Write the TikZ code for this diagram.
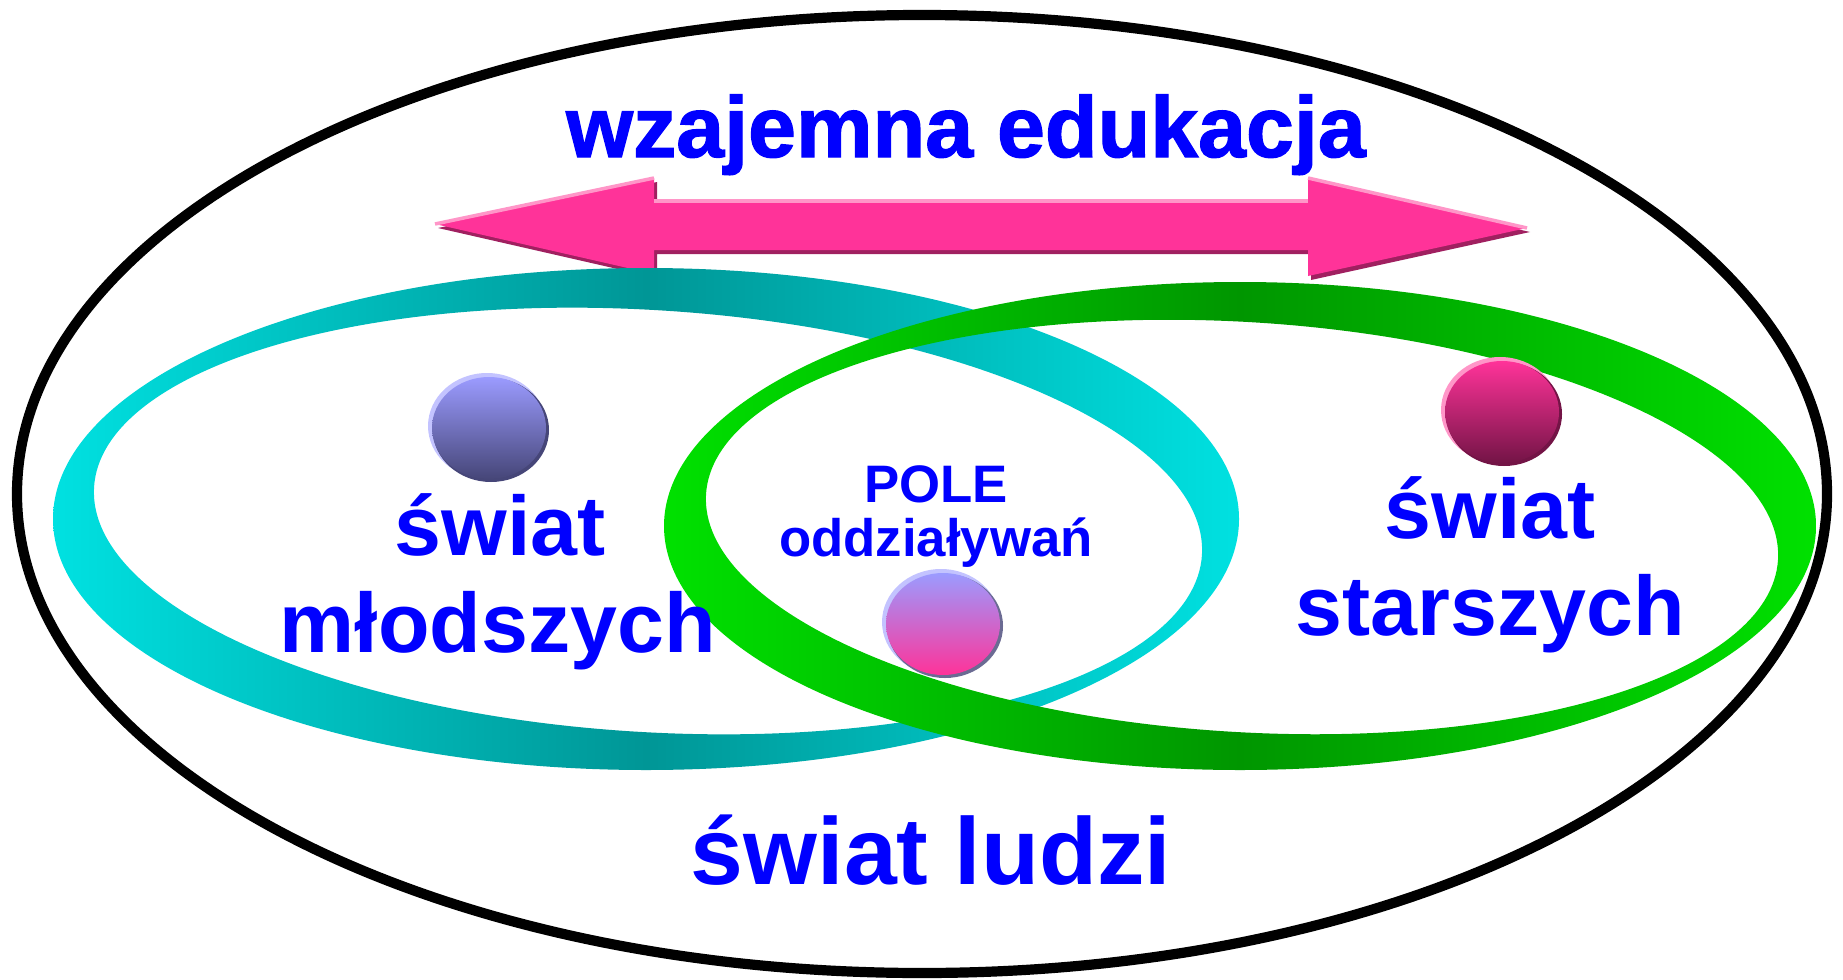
\documentclass[tikz,border=0pt]{standalone}
\usepackage{fontspec}
\setmainfont{Liberation Sans}
\usetikzlibrary{positioning, shapes.geometric}
\definecolor{textblue}{RGB}{0,0,255}
\definecolor{arrowpink}{RGB}{255,51,153}
\definecolor{arrowdark}{RGB}{160,32,96}
\definecolor{arrowlight}{RGB}{255,150,200}
\definecolor{ringteal}{RGB}{0,150,150}
\definecolor{ringcyan}{RGB}{0,225,225}
\definecolor{ringgreen}{RGB}{0,150,0}
\definecolor{ringlime}{RGB}{0,225,0}
\definecolor{ballblue}{RGB}{155,155,255}
\definecolor{balldark}{RGB}{70,70,120}
\definecolor{ballwine}{RGB}{115,20,70}

\begin{document}
\begin{tikzpicture}[x=0.01cm, y=-0.01cm,
    worldtext/.style={text=textblue, inner sep=0pt, anchor=base,
        font=\bfseries\fontsize{24}{28}\selectfont},
    poletext/.style={worldtext, font=\bfseries\fontsize{15}{18}\selectfont}]
    \useasboundingbox (0,0) rectangle (1843,979);

    % Outer ellipse
    \draw[black, line width=2.9pt] (922,494) ellipse [x radius=905, y radius=479];

    % Double arrow
    \fill[arrowdark] (438,228) -- (657,182) -- (657,205) -- (1311,205) -- (1311,182)
        -- (1530,232) -- (1311,280) -- (1311,254) -- (657,254) -- (657,278) -- cycle;
    \fill[arrowpink] (435,224) -- (654,178) -- (654,201) -- (1308,201) -- (1308,178)
        -- (1527,228) -- (1308,276) -- (1308,250) -- (654,250) -- (654,274) -- cycle;
    \draw[arrowlight, line width=1pt] (435,224) -- (654,178);
    \draw[arrowlight, line width=1pt] (654,201) -- (1308,201);
    \draw[arrowlight, line width=1pt] (1308,178) -- (1527,228);

    % Rings
    \shade[even odd rule, left color=ringcyan, right color=ringcyan, middle color=ringteal]
        (646,519) ellipse [x radius=593, y radius=251]
        (648,521) ellipse [x radius=555, y radius=211, rotate=-3.5];
    \shade[even odd rule, left color=ringlime, right color=ringlime, middle color=ringgreen]
        (1240,526) ellipse [x radius=576, y radius=244]
        (1242,527) ellipse [x radius=537, y radius=205, rotate=-3.5];

    % Spheres
    \fill[ballblue!60!white] (487,426) ellipse [x radius=59, y radius=53];
    \fill[balldark] (491,430) ellipse [x radius=58, y radius=52];
    \shade[top color=ballblue, bottom color=balldark] (489,428) ellipse [x radius=57, y radius=51];

    \fill[ballblue!60!white] (941,622) ellipse [x radius=59, y radius=53];
    \fill[balldark!80] (945,626) ellipse [x radius=58, y radius=52];
    \shade[top color=ballblue, bottom color=arrowpink] (943,624) ellipse [x radius=57, y radius=51];

    \fill[arrowlight] (1500,410) ellipse [x radius=59, y radius=53];
    \fill[ballwine] (1504,414) ellipse [x radius=58, y radius=52];
    \shade[top color=arrowpink, bottom color=ballwine] (1502,412) ellipse [x radius=57, y radius=51];

    % Labels
    \node[worldtext, font=\bfseries\fontsize{24.5}{28}\selectfont\addfontfeature{FakeBold=1.5}] (edu) at (966,157) {wzajemna edukacja};
    \node[worldtext] (young1) at (500,555) {świat};
    \node[worldtext] (young2) at (498,652) {młodszych};
    \node[poletext] (pole1) at (936,502) {POLE};
    \node[poletext] (pole2) at (936,556) {oddziaływań};
    \node[worldtext] (old1) at (1490,538) {świat};
    \node[worldtext] (old2) at (1490,635) {starszych};
    \node[worldtext, font=\bfseries\fontsize{27}{30}\selectfont] (people) at (931,884) {świat ludzi};
\end{tikzpicture}
\end{document}
